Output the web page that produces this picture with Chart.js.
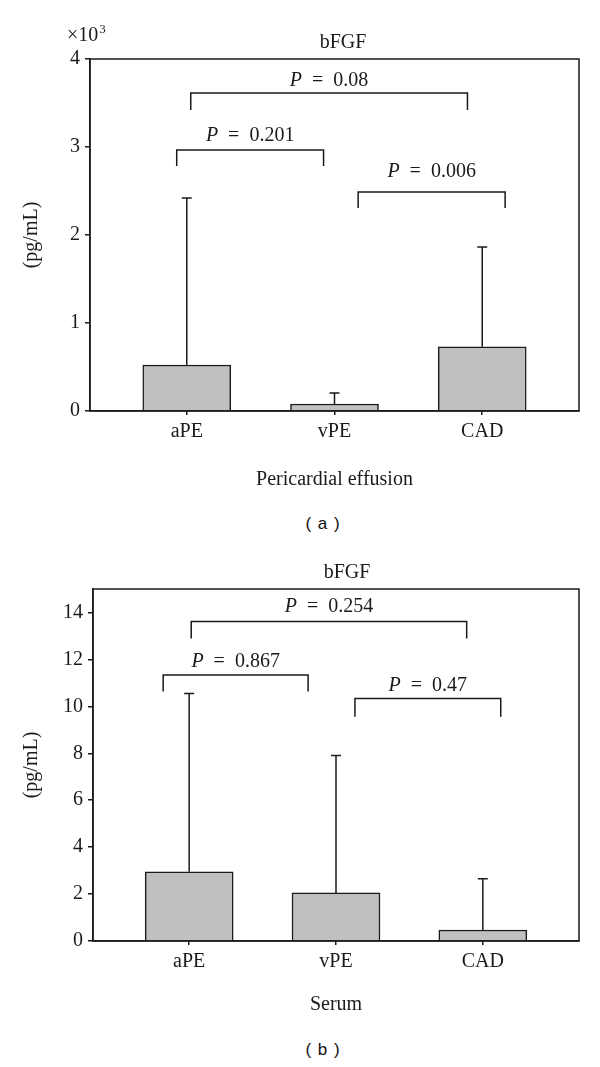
<!DOCTYPE html>
<html>
<head>
<meta charset="utf-8">
<script src="https://cdn.jsdelivr.net/npm/chart.js@4.4.0/dist/chart.umd.min.js"></script>
<style>
  body { margin: 0; background: #fff; width: 600px; height: 1067px; position: relative; overflow: hidden; }
  .box { position: absolute; left: 0; width: 600px; height: 500px; }
  .cap { position: absolute; left: 0; width: 646px; text-align: center; font-family: "Liberation Sans", Arial, sans-serif; font-size: 17px; letter-spacing: 1px; color: #111; }
</style>
</head>
<body>
<div class="box" style="top:0"><canvas id="chartA"></canvas></div>
<div class="cap" style="top:514px">( a )</div>
<div class="box" style="top:530px"><canvas id="chartB"></canvas></div>
<div class="cap" style="top:1040px">( b )</div>
<script>
// 공통 카테고리
const categories = ['aPE', 'vPE', 'CAD'];

// (a) Pericardial effusion (pg/mL)
const effusionMean = [523, 80, 730];
const effusionUpper = [2420, 205, 1865];   // 에러바 끝값
const effusionP = ['0.08', '0.201', '0.006'];
const effusionFrom = [0.027, -0.068, 1.16]; // 브래킷 시작 (카테고리 단위)
const effusionTo = [1.9, 0.926, 2.155];
const effusionLevel = [3614, 2966, 2489];
const effusionDrop = [3420, 2784, 2307];
const effusionLabelY = [3750, 3125, 2716];

// (b) Serum (pg/mL)
const serumMean = [2.95, 2.05, 0.47];
const serumUpper = [10.55, 7.9, 2.65];
const serumP = ['0.254', '0.867', '0.47'];
const serumFrom = [0.014, -0.177, 1.129];
const serumTo = [1.89, 0.81, 2.122];
const serumLevel = [13.61, 11.34, 10.33];
const serumDrop = [12.89, 10.63, 9.56];
const serumLabelY = [14.25, 11.9, 10.88];

const ink = '#1a1a1a';
const serif = '"Liberation Serif", "Times New Roman", serif';
const fs = 20;

// 에러바, 테두리, 브래킷, 제목 그리기
const annotPlugin = {
    id: 'annot',
    afterDatasetsDraw(chart, args, opts) {
        const ctx = chart.ctx;
        const xs = chart.scales.x;
        const ys = chart.scales.y;
        const a = chart.chartArea;
        ctx.save();
        ctx.strokeStyle = ink;
        ctx.fillStyle = ink;
        ctx.lineWidth = 1.5;

        // error bars
        opts.mean.forEach((m, i) => {
            const px = xs.getPixelForValue(i);
            const y0 = ys.getPixelForValue(m);
            const y1 = ys.getPixelForValue(opts.upper[i]);
            ctx.beginPath();
            ctx.moveTo(px, y0);
            ctx.lineTo(px, y1);
            ctx.moveTo(px - 5, y1);
            ctx.lineTo(px + 5, y1);
            ctx.stroke();
        });

        // frame
        ctx.strokeRect(a.left, a.top, a.right - a.left, a.bottom - a.top);

        // significance brackets
        opts.p.forEach((p, i) => {
            const x1 = xs.getPixelForValue(opts.from[i]);
            const x2 = xs.getPixelForValue(opts.to[i]);
            const yl = ys.getPixelForValue(opts.level[i]);
            const yd = ys.getPixelForValue(opts.drop[i]);
            ctx.beginPath();
            ctx.moveTo(x1, yd);
            ctx.lineTo(x1, yl);
            ctx.lineTo(x2, yl);
            ctx.lineTo(x2, yd);
            ctx.stroke();

            const rest = '\u2002=\u2002' + p;
            ctx.font = 'italic ' + fs + 'px ' + serif;
            const wP = ctx.measureText('P').width;
            ctx.font = fs + 'px ' + serif;
            const wR = ctx.measureText(rest).width;
            const cx = (x1 + x2) / 2;
            const ty = ys.getPixelForValue(opts.labelY[i]);
            let sx = cx - (wP + wR) / 2;
            ctx.textAlign = 'left';
            ctx.textBaseline = 'middle';
            ctx.font = 'italic ' + fs + 'px ' + serif;
            ctx.fillText('P', sx, ty);
            ctx.font = fs + 'px ' + serif;
            ctx.fillText(rest, sx + wP, ty);
        });

        // title
        ctx.textAlign = 'center';
        ctx.textBaseline = 'middle';
        ctx.font = fs + 'px ' + serif;
        ctx.fillText('bFGF', opts.titleX, 43);

        // ×10^3 multiplier
        if (opts.exponent) {
            ctx.textAlign = 'left';
            ctx.textBaseline = 'alphabetic';
            ctx.font = fs + 'px ' + serif;
            ctx.fillText('\u00d710', 67, 41);
            const w = ctx.measureText('\u00d710').width;
            ctx.font = '13px ' + serif;
            ctx.fillText(opts.exponent, 67 + w + 1, 33);
        }
        ctx.restore();
    }
};

function makeChart(id, cfg) {
    const ctx = document.getElementById(id).getContext('2d');
    return new Chart(ctx, {
        type: 'bar',
        data: {
            datasets: [{
                data: cfg.mean.map((v, i) => ({ x: i, y: v })),
                backgroundColor: '#c0c0c0',
                borderColor: ink,
                borderWidth: 1.5,
                barThickness: 88
            }]
        },
        options: {
            responsive: true,
            maintainAspectRatio: false,
            animation: false,
            layout: { padding: { top: 59, right: 21, left: 0, bottom: 0 } },
            scales: {
                x: {
                    type: 'linear',
                    offset: false,
                    min: -0.655,
                    max: 2.655,
                    afterBuildTicks: s => { s.ticks = categories.map((c, i) => ({ value: i })); },
                    afterFit: s => { s.height = 89; },
                    ticks: {
                        callback: v => categories[v],
                        color: ink,
                        font: { family: serif, size: fs },
                        padding: 5,
                        maxRotation: 0,
                        autoSkip: false
                    },
                    grid: { offset: false, drawOnChartArea: false, drawTicks: true, tickLength: 4, color: ink, lineWidth: 1.5 },
                    border: { display: true, color: ink, width: 1.5 },
                    title: {
                        display: true,
                        text: cfg.xTitle,
                        color: ink,
                        font: { family: serif, size: fs },
                        padding: { top: 0, bottom: cfg.xTitlePad }
                    }
                },
                y: {
                    min: 0,
                    max: cfg.yMax,
                    afterFit: s => { s.width = cfg.yWidth; },
                    ticks: {
                        stepSize: cfg.step,
                        includeBounds: false,
                        callback: cfg.tickFmt,
                        color: ink,
                        font: { family: serif, size: fs },
                        padding: 5
                    },
                    grid: { drawOnChartArea: false, drawTicks: true, tickLength: 5, color: ink, lineWidth: 1.5 },
                    border: { display: true, color: ink, width: 1.5 },
                    title: {
                        display: true,
                        text: '(pg/mL)',
                        color: ink,
                        font: { family: serif, size: fs },
                        padding: { top: 20, bottom: 0 }
                    }
                }
            },
            plugins: {
                legend: { display: false },
                tooltip: { enabled: false },
                annot: cfg.annot
            }
        },
        plugins: [annotPlugin]
    });
}

makeChart('chartA', {
    mean: effusionMean,
    yMax: 4000,
    step: 1000,
    tickFmt: v => v / 1000,
    yWidth: 90,
    xTitle: 'Pericardial effusion',
    xTitlePad: 8,
    annot: {
        mean: effusionMean, upper: effusionUpper, p: effusionP,
        from: effusionFrom, to: effusionTo, level: effusionLevel,
        drop: effusionDrop, labelY: effusionLabelY,
        titleX: 343, exponent: '3'
    }
});

makeChart('chartB', {
    mean: serumMean,
    yMax: 15,
    step: 2,
    tickFmt: v => v,
    yWidth: 93,
    xTitle: 'Serum',
    xTitlePad: 13,
    annot: {
        mean: serumMean, upper: serumUpper, p: serumP,
        from: serumFrom, to: serumTo, level: serumLevel,
        drop: serumDrop, labelY: serumLabelY,
        titleX: 347, exponent: null
    }
});
</script>
</body>
</html>
